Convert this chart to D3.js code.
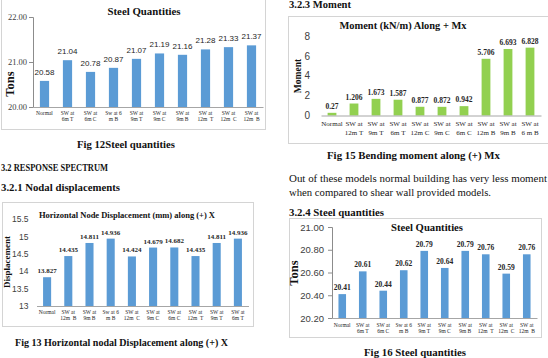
<!DOCTYPE html>
<html>
<head>
<meta charset="utf-8">
<script src="https://cdn.jsdelivr.net/npm/d3@7"></script>
<style>
  body { margin: 0; background: #fff; }
  svg { display: block; }
</style>
</head>
<body>
<div id="page"></div>
<script>
// Fig 12 - steel quantities (equivalent static)
const steelCats12 = ["Normal", "SW at\n6m T", "SW at\n6m C", "Sw at 6\nm B", "SW at\n9m T",
  "SW at\n9m C", "SW at\n9m B", "SW at\n12m  T", "SW at\n12m  C", "SW at\n12m  B"];
const steelTons12 = [20.58, 21.04, 20.78, 20.87, 21.07, 21.19, 21.16, 21.28, 21.33, 21.37];
const steelTicks12 = [20, 21, 22];

// Fig 13 - horizontal nodal displacement
const dispCats = ["Normal", "SW at\n12m  B", "SW at\n9m B", "Sw at 6\nm B", "SW at\n12m  C",
  "SW at\n9m C", "SW at\n6m C", "SW at\n12m  T", "SW at\n9m T", "SW at\n6m T"];
const dispValues = [13.827, 14.435, 14.811, 14.936, 14.424, 14.679, 14.682, 14.435, 14.811, 14.936];
const dispTicks = [13, 13.5, 14, 14.5, 15, 15.5];

// Fig 15 - bending moment
const momentCats = ["Normal", "SW at\n12m T", "SW at\n9m T", "SW at\n6m T", "SW at\n12m C",
  "SW at\n9m C", "SW at\n6m C", "SW at\n12m B", "SW at\n9m B", "SW at\n6 m B"];
const momentValues = [0.27, 1.206, 1.673, 1.587, 0.877, 0.872, 0.942, 5.706, 6.693, 6.828];
const momentTicks = [0, 2, 4, 6, 8];

// Fig 16 - steel quantities (response spectrum)
const steelCats16 = ["Normal", "SW at\n6m T", "SW at\n6m C", "Sw at 6\nm B", "SW at\n9m T",
  "SW at\n9m C", "SW at\n9m B", "SW at\n12m  T", "SW at\n12m  C", "SW at\n12m  B"];
const steelTons16 = [20.41, 20.61, 20.44, 20.62, 20.79, 20.64, 20.79, 20.76, 20.59, 20.76];
const steelTicks16 = [20.2, 20.4, 20.6, 20.8, 21.0];

const serif = "'Liberation Serif', 'Times New Roman', serif";
const sans = "'Liberation Sans', Arial, sans-serif";

const svg = d3.select("#page").append("svg")
  .attr("width", 548)
  .attr("height", 358);

function fit(sel, len) {
  if (len) sel.attr("textLength", len).attr("lengthAdjust", "spacingAndGlyphs");
  return sel;
}

function text(x, y, str, opts = {}) {
  const t = svg.append("text")
    .attr("x", x)
    .attr("y", y)
    .attr("text-anchor", opts.anchor || "start")
    .attr("font-family", opts.family || serif)
    .attr("font-size", opts.size || 10)
    .attr("font-weight", opts.bold ? "bold" : "normal")
    .attr("fill", "#111")
    .text(str);
  return fit(t, opts.len);
}

function barChart(o) {
  const g = svg.append("g");

  g.append("rect")
    .attr("x", o.frame[0] + 0.5)
    .attr("y", o.frame[1] + 0.5)
    .attr("width", o.frame[2])
    .attr("height", o.frame[3])
    .attr("fill", "#fff")
    .attr("stroke", "#d4d4d4");

  const x = d3.scaleBand()
    .domain(o.cats)
    .range(o.xRange)
    .paddingInner(o.pad)
    .paddingOuter(o.pad / 2);
  const y = d3.scaleLinear().domain(o.yDomain).range(o.yRange);
  const base = y(o.yDomain[0]);

  g.selectAll("rect.bar")
    .data(o.values)
    .join("rect")
    .attr("class", "bar")
    .attr("x", (d, i) => x(o.cats[i]))
    .attr("width", x.bandwidth())
    .attr("y", d => y(d))
    .attr("height", d => base - y(d))
    .attr("fill", o.color);

  g.selectAll("text.val")
    .data(o.values)
    .join("text")
    .attr("class", "val")
    .attr("x", (d, i) => x(o.cats[i]) + x.bandwidth() / 2)
    .attr("y", d => y(d) - o.valGap)
    .attr("text-anchor", "middle")
    .attr("font-family", o.valFamily)
    .attr("font-weight", o.valBold ? "bold" : "normal")
    .attr("font-size", o.valSize)
    .attr("fill", "#262626")
    .text(o.valFmt);

  const ya = g.append("g")
    .attr("transform", `translate(${o.xRange[0]},0)`)
    .call(d3.axisLeft(y).tickValues(o.ticks).tickSize(o.tickSize).tickPadding(o.tickPad).tickFormat(o.fmt));
  ya.attr("font-family", null).attr("font-size", null);
  ya.select(".domain").attr("stroke", o.yLine ? "#8c8c8c" : "none");
  ya.selectAll(".tick line").attr("stroke", "#8c8c8c");
  ya.selectAll(".tick text")
    .attr("font-family", o.tickFamily)
    .attr("font-size", o.tickFont)
    .attr("fill", "#404040");

  const xa = g.append("g")
    .attr("transform", `translate(0,${base})`)
    .call(d3.axisBottom(x).tickSize(0).tickFormat(""));
  xa.attr("font-family", null).attr("font-size", null);
  xa.select(".domain").attr("stroke", "#a6a6a6");
  xa.selectAll(".tick text").remove();
  xa.selectAll(".tick").append("text")
    .attr("text-anchor", "middle")
    .attr("font-family", serif)
    .attr("font-size", o.catSize)
    .attr("fill", "#262626")
    .each(function (d) {
      d.split("\n").forEach((ln, k) => {
        d3.select(this).append("tspan")
          .attr("x", 0)
          .attr("y", o.catY[k])
          .attr("xml:space", "preserve")
          .text(ln);
      });
    });

  fit(g.append("text")
    .attr("x", o.title[1])
    .attr("y", o.title[2])
    .attr("text-anchor", "middle")
    .attr("font-family", serif)
    .attr("font-weight", "bold")
    .attr("font-size", o.title[3])
    .attr("fill", "#111")
    .text(o.title[0]), o.title[4]);

  g.append("text")
    .attr("transform", `translate(${o.yTitle[1]},${o.yTitle[2]}) rotate(-90)`)
    .attr("text-anchor", "middle")
    .attr("font-family", serif)
    .attr("font-weight", "bold")
    .attr("font-size", o.yTitle[3])
    .attr("fill", "#111")
    .text(o.yTitle[0]);
}

// ---- left column ----
barChart({
  frame: [1, -2, 264, 131],
  cats: steelCats12, values: steelTons12, ticks: steelTicks12,
  xRange: [33, 263], yDomain: [20, 22], yRange: [107, 17], pad: 0.6,
  color: "#5b9bd5",
  valGap: 6, valFamily: sans, valBold: false, valSize: 8, valFmt: d3.format(".2f"),
  yLine: true, tickSize: 4, tickPad: 2, fmt: d3.format(".2f"), tickFamily: serif, tickFont: 8.5,
  catSize: 5.5, catY: [8, 13.5],
  title: ["Steel Quantities", 144, 14.5, 10.5, 73],
  yTitle: ["Tons", 14, 84, 12.5]
});

text(126, 148, "Fig 12Steel quantities", { anchor: "middle", bold: true, size: 10.5, len: 98 });
text(1, 170.5, "3.2 RESPONSE SPECTRUM", { bold: true, size: 10.5, len: 107 });
text(1, 190.5, "3.2.1 Nodal displacements", { bold: true, size: 10.5, len: 119 });

barChart({
  frame: [2, 202, 251, 124],
  cats: dispCats, values: dispValues, ticks: dispTicks,
  xRange: [36.5, 248.5], yDomain: [13, 15.5], yRange: [306, 219], pad: 0.62,
  color: "#5b9bd5",
  valGap: 4, valFamily: serif, valBold: true, valSize: 7, valFmt: d3.format(".3f"),
  yLine: false, tickSize: 0, tickPad: 8, fmt: d => String(d), tickFamily: sans, tickFont: 8.5,
  catSize: 5.5, catY: [8, 14],
  title: ["Horizontal Node Displacement (mm) along (+) X", 127, 218, 7.5, 176],
  yTitle: ["Displacement", 10, 262, 9]
});

text(121.5, 345.5, "Fig 13 Horizontal nodal Displacement along (+) X", { anchor: "middle", bold: true, size: 10.5, len: 213 });

// ---- right column ----
text(289, 8, "3.2.3 Moment", { bold: true, size: 10.5, len: 62 });

barChart({
  frame: [288, 16, 272, 127],
  cats: momentCats, values: momentValues, ticks: momentTicks,
  xRange: [321, 541], yDomain: [0, 8], yRange: [115.5, 36], pad: 0.6,
  color: "#92d050",
  valGap: 4, valFamily: serif, valBold: true, valSize: 7.5, valFmt: d => d === 0.27 ? "0.27" : d.toFixed(3),
  yLine: false, tickSize: 0, tickPad: 11, fmt: d => String(d), tickFamily: sans, tickFont: 10,
  catSize: 7, catY: [10, 19],
  title: ["Moment (kN/m) Along + Mx", 403, 28.5, 10.5, 127],
  yTitle: ["Moment", 301, 76, 9.5]
});

text(413.5, 158.5, "Fig 15 Bending moment along (+) Mx", { anchor: "middle", bold: true, size: 10.5, len: 173 });
text(289, 181.5, "Out of these models normal building has very less moment", { size: 10.5, len: 258 });
text(289, 195.5, "when compared to shear wall provided models.", { size: 10.5, len: 202 });
text(289, 215.5, "3.2.4 Steel quantities", { bold: true, size: 10.5, len: 95 });

barChart({
  frame: [289, 218, 252, 119],
  cats: steelCats16, values: steelTons16, ticks: steelTicks16,
  xRange: [332, 537], yDomain: [20.2, 21.0], yRange: [318, 227], pad: 0.63,
  color: "#5b9bd5",
  valGap: 4, valFamily: serif, valBold: true, valSize: 7.5, valFmt: d3.format(".2f"),
  yLine: true, tickSize: 4, tickPad: 4, fmt: d3.format(".2f"), tickFamily: sans, tickFont: 9.5,
  catSize: 5.5, catY: [9, 15],
  title: ["Steel Quantities", 427, 230.5, 10.5, 72],
  yTitle: ["Tons", 298, 273, 12.5]
});

text(415, 355.5, "Fig 16 Steel quantities", { anchor: "middle", bold: true, size: 10.5, len: 102 });
</script>
</body>
</html>
